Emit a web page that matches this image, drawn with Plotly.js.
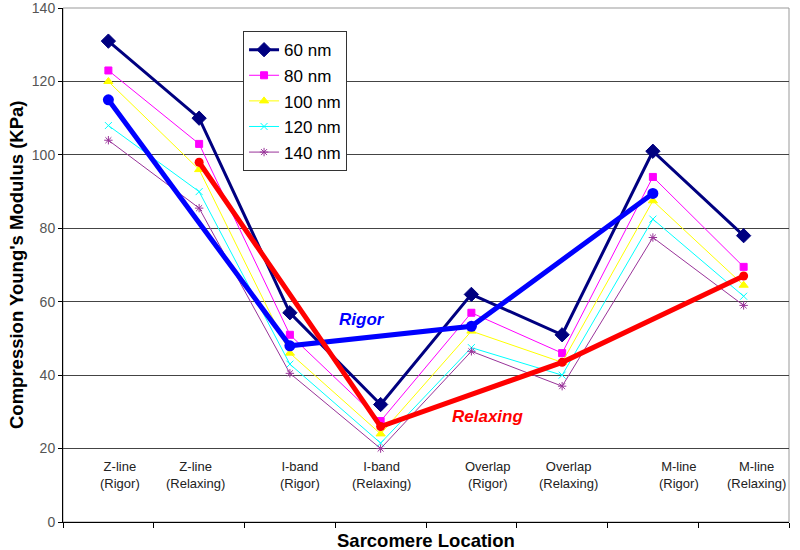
<!DOCTYPE html>
<html>
<head>
<meta charset="utf-8">
<script src="https://cdn.plot.ly/plotly-3.0.1.min.js"></script>
<style>html,body{margin:0;padding:0;background:#fff;}#chart{width:800px;height:550px;}</style>
</head>
<body>
<div id="chart"></div>
<script>
// ---- data ----
const categories = ['Z-line (Rigor)','Z-line (Relaxing)','I-band (Rigor)','I-band (Relaxing)','Overlap (Rigor)','Overlap (Relaxing)','M-line (Rigor)','M-line (Relaxing)'];
const tickLabels = ['Z-line<br>(Rigor)','Z-line<br>(Relaxing)','I-band<br>(Rigor)','I-band<br>(Relaxing)','Overlap<br>(Rigor)','Overlap<br>(Relaxing)','M-line<br>(Rigor)','M-line<br>(Relaxing)'];
const seriesNames = ['60 nm','80 nm','100 nm','120 nm','140 nm'];
const s60  = [131, 110, 57, 32, 62, 51, 101, 78];
const s80  = [123, 103, 51, 27.5, 57, 46, 94, 69.5];
const s100 = [120, 96, 46, 24, 52, 43.5, 87.5, 64.5];
const s120 = [108, 90, 43, 21.5, 47.5, 40, 82.5, 61.5];
const s140 = [104, 85.5, 40.5, 20, 46.5, 37, 77.5, 59];
const rigorCats = ['Z-line (Rigor)','I-band (Rigor)','Overlap (Rigor)','M-line (Rigor)'];
const rigorVals = [115, 48, 53.3, 89.5];
const relaxCats = ['Z-line (Relaxing)','I-band (Relaxing)','Overlap (Relaxing)','M-line (Relaxing)'];
const relaxVals = [98, 26, 43.5, 67];

// ---- styles / positions ----
const seriesStyles = [
  {color:'#000080', width:3, symbol:'diamond', size:11},
  {color:'#FF00FF', width:1, symbol:'square', size:7},
  {color:'#FFFF00', width:1, symbol:'triangle-up', size:8},
  {color:'#00FFFF', width:1, symbol:'x-thin-open', size:7},
  {color:'#993399', width:1, symbol:'asterisk-open', size:7}
];
const labelOffsets = [0.13, -0.04, 0.11, 0.01, 0.18, 0.07, 0.29, 0.14];
const font = 'Arial, "Liberation Sans", sans-serif';

const allSeries = [s60, s80, s100, s120, s140];
const traces = allSeries.map((vals, i) => ({
  type:'scatter', mode:'lines+markers', name: seriesNames[i],
  x: categories, y: vals, legendgroup:'g'+i,
  line:{color: seriesStyles[i].color, width: seriesStyles[i].width},
  marker:{color: seriesStyles[i].color, symbol: seriesStyles[i].symbol, size: seriesStyles[i].size,
          line:{color: seriesStyles[i].color, width: 1}}
}));
traces.push({type:'scatter', mode:'lines+markers', name:'Rigor', showlegend:false,
  x: rigorCats, y: rigorVals, line:{color:'#0000FF', width:5}, marker:{color:'#0000FF', size:11}});
traces.push({type:'scatter', mode:'lines+markers', name:'Relaxing', showlegend:false,
  x: relaxCats, y: relaxVals, line:{color:'#FF0000', width:5}, marker:{color:'#FF0000', size:9}});

const annotations = tickLabels.map((t, i) => ({
  x: i + labelOffsets[i], y: 12.8, xref:'x', yref:'y', text: t, showarrow:false,
  font:{family: font, size:13, color:'#222'}, align:'center'
}));
annotations.push({x: 2.8, y: 55.3, xref:'x', yref:'y', text:'<b><i>Rigor</i></b>', showarrow:false,
  font:{family: font, size:17, color:'#0000FF'}});
annotations.push({x: 4.18, y: 28.8, xref:'x', yref:'y', text:'<b><i>Relaxing</i></b>', showarrow:false,
  font:{family: font, size:17, color:'#FF0000'}});
annotations.push({x: 0.5, y: 0, xref:'paper', yref:'paper', yshift:-18, yanchor:'middle',
  text:'<b>Sarcomere Location</b>', showarrow:false, font:{family: font, size:18.5, color:'#000'}});
annotations.push({x: 0, y: 0.5, xref:'paper', yref:'paper', xshift:-47, xanchor:'center', textangle:-90,
  text:"<b>Compression Young's Modulus (KPa)</b>", showarrow:false, font:{family: font, size:18.5, color:'#000'}});

const layout = {
  width:800, height:550,
  margin:{l:63, r:11, t:8, b:28},
  paper_bgcolor:'#fff', plot_bgcolor:'#fff',
  font:{family: font},
  xaxis:{type:'category', categoryorder:'array', categoryarray: categories, range:[-0.5, 7.5],
    showticklabels:false, ticks:'outside', tickson:'boundaries', ticklen:5, tickcolor:'#000',
    showline:true, linecolor:'#000', linewidth:1, showgrid:false, zeroline:false, automargin:false},
  yaxis:{range:[0,140.02], dtick:20, tick0:0, ticks:'outside', ticklen:4, tickcolor:'#000',
    showline:true, linecolor:'#000', linewidth:1, showgrid:true, gridcolor:'#444', gridwidth:1,
    zeroline:false, automargin:false, ticklabeloverflow:'allow', tickfont:{family: font, size:14, color:'#555'}},
  legend:{x:0.248, y:0.955, xanchor:'left', yanchor:'top', bgcolor:'#fff', bordercolor:'#333', borderwidth:1,
    font:{family: font, size:17, color:'#000'}, tracegroupgap:0.5, itemwidth:30},
  showlegend:true,
  annotations: annotations,
  shapes:[{type:'rect', xref:'paper', yref:'paper', x0:0, x1:1, y0:0, y1:1, line:{color:'#999', width:1}, layer:'below'}]
};

Plotly.newPlot('chart', traces, layout, {displayModeBar:false, staticPlot:true});
</script>
</body>
</html>
